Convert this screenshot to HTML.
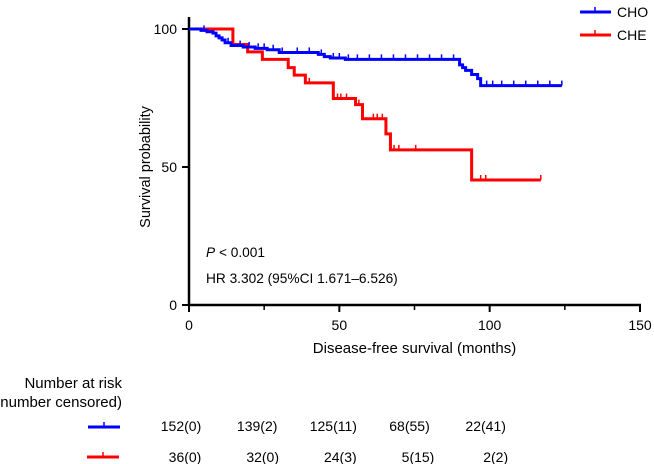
<!DOCTYPE html>
<html><head><meta charset="utf-8"><style>
html,body{margin:0;padding:0;background:#fff;}
svg{display:block;font-family:"Liberation Sans",Arial,sans-serif;}
</style></head><body>
<svg id="chart" width="654" height="464" viewBox="0 0 654 464">
<g id="axes"></g>
<g id="series"></g>
<text x="206" y="257" font-size="13.7"><tspan font-style="italic">P</tspan> &lt; 0.001</text>
<text x="206" y="283" font-size="13.7">HR 3.302 (95%CI 1.671–6.526)</text>
<g>
<g>
<line x1="580" y1="12" x2="611" y2="12" stroke="#0000ff" stroke-width="3"/><line x1="595" y1="12" x2="595" y2="7" stroke="#0000ff" stroke-width="1.5"/>
<text x="617" y="17" font-size="14">CHO</text></g>
<g>
<line x1="580" y1="35" x2="611" y2="35" stroke="#ff0000" stroke-width="3"/><line x1="595" y1="35" x2="595" y2="30" stroke="#ff0000" stroke-width="1.5"/>
<text x="617" y="40" font-size="14">CHE</text></g>
</g>
<g>
<text x="122" y="388" font-size="15" text-anchor="end">Number at risk</text>
<text x="122" y="407" font-size="15" text-anchor="end">(number censored)</text>
<g><line x1="88" y1="427" x2="120" y2="427" stroke="#0000ff" stroke-width="3"/><line x1="104" y1="427" x2="104" y2="422" stroke="#0000ff" stroke-width="1.5"/></g>
<g><line x1="87" y1="457" x2="119" y2="457" stroke="#ff0000" stroke-width="3"/><line x1="103" y1="457" x2="103" y2="452" stroke="#ff0000" stroke-width="1.5"/></g>
<g id="riskrows"></g>
</g>
</svg>
<script>
const xTicks=[0,50,100,150];
const xMinor=[25,75,125];
const yTicks=[0,50,100];
const choTimes=[0,4,6,8,9,10,11,12,14,18,22,26,30,43,45,47,52,90,91,92,94,96,97];
const choSurv=[100,99.5,99,98.5,97.5,96.8,96,95,94,93.5,93,92.5,91.5,90.8,90,89.5,89,87,86,85,83.5,82,79.5];
const choEnd=124;
const choCensor=[5,13,17,20,23,25,28,31,36,40,44,48,50,53,56,60,64,68,72,76,80,84,88,99,101,104,108,112,116,120,124];
const cheTimes=[0,14.6,19.5,24.4,33,35,38.7,48,55.4,57.7,65.5,67,94];
const cheSurv=[100,94.4,91.7,89,86,83.3,80.5,74.8,72.6,67.5,62,56.2,45.3];
const cheEnd=117;
const cheCensor=[40,49.4,50.5,52.4,56.5,61.3,62.6,64.3,68.2,69.8,75.4,97,98.7,117];
const riskTimes=[0,25,50,75,100];
const choRisk=["152(0)","139(2)","125(11)","68(55)","22(41)"];
const cheRisk=["36(0)","32(0)","24(3)","5(15)","2(2)"];

const NS="http://www.w3.org/2000/svg";
const X=t=>189+t*(451/150);
const Y=s=>305-s*2.76;
function mk(tag,attrs,parent){const e=document.createElementNS(NS,tag);for(const k in attrs)e.setAttribute(k,attrs[k]);parent.appendChild(e);return e;}
const axes=document.getElementById('axes');
const series=document.getElementById('series');
let l=mk('line',{x1:X(0),y1:Y(0),x2:X(150)+1,y2:Y(0),stroke:'#000','stroke-width':2.5},axes);


l=mk('line',{x1:X(0),y1:Y(0)+1,x2:X(0),y2:Y(100)-12,stroke:'#000','stroke-width':2.5},axes);


xTicks.forEach(t=>{
 mk('line',{x1:X(t),y1:Y(0),x2:X(t),y2:Y(0)+7,stroke:'#000','stroke-width':2},axes);
 const tx=mk('text',{x:X(t),y:Y(0)+25,'font-size':14,'text-anchor':'middle'},axes);tx.textContent=t;
 
 
});
xMinor.forEach(t=>mk('line',{x1:X(t),y1:Y(0),x2:X(t),y2:Y(0)+5,stroke:'#000','stroke-width':1.5},axes));
yTicks.forEach(s=>{
 mk('line',{x1:X(0)-7,y1:Y(s),x2:X(0),y2:Y(s),stroke:'#000','stroke-width':2},axes);
 const tx=mk('text',{x:X(0)-12,y:Y(s)+5,'font-size':14,'text-anchor':'end'},axes);tx.textContent=s;
 
 
});
let t=mk('text',{x:X(75),y:353,'font-size':15,'text-anchor':'middle'},axes);t.textContent='Disease-free survival (months)';


t=mk('text',{x:0,y:0,'font-size':14.5,'text-anchor':'middle',transform:`translate(150,${Y(50)}) rotate(-90)`},axes);t.textContent='Survival probability';


function survAt(times,surv,x){let s=surv[0];for(let i=0;i<times.length;i++)if(times[i]<=x)s=surv[i];return s;}
function drawCurve(times,surv,end,cens,color,name){
 let d=`M${X(times[0])},${Y(surv[0])}`;
 for(let i=1;i<times.length;i++){d+=`H${X(times[i])}V${Y(surv[i])}`;}
 d+=`H${X(end)}`;
 const p=mk('path',{d:d,fill:'none',stroke:color,'stroke-width':3},series);
 
 
 cens.forEach(c=>{
  const s=survAt(times,surv,c);
  const m=mk('line',{x1:X(c),y1:Y(s),x2:X(c),y2:Y(s)-5,stroke:color,'stroke-width':1.5},series);
  
  
 });
}
drawCurve(cheTimes,cheSurv,cheEnd,cheCensor,'#ff0000','che');
drawCurve(choTimes,choSurv,choEnd,choCensor,'#0000ff','cho');
const rr=document.getElementById('riskrows');
riskTimes.forEach((rt,i)=>{
 let a=mk('text',{x:X(rt)-8+i*1,y:431,'font-size':14,'text-anchor':'middle'},rr);a.textContent=choRisk[i];
 
 
 a=mk('text',{x:X(rt)-4+i*2.5,y:462,'font-size':14,'text-anchor':'middle'},rr);a.textContent=cheRisk[i];
 
 
});
</script>
</body></html>
